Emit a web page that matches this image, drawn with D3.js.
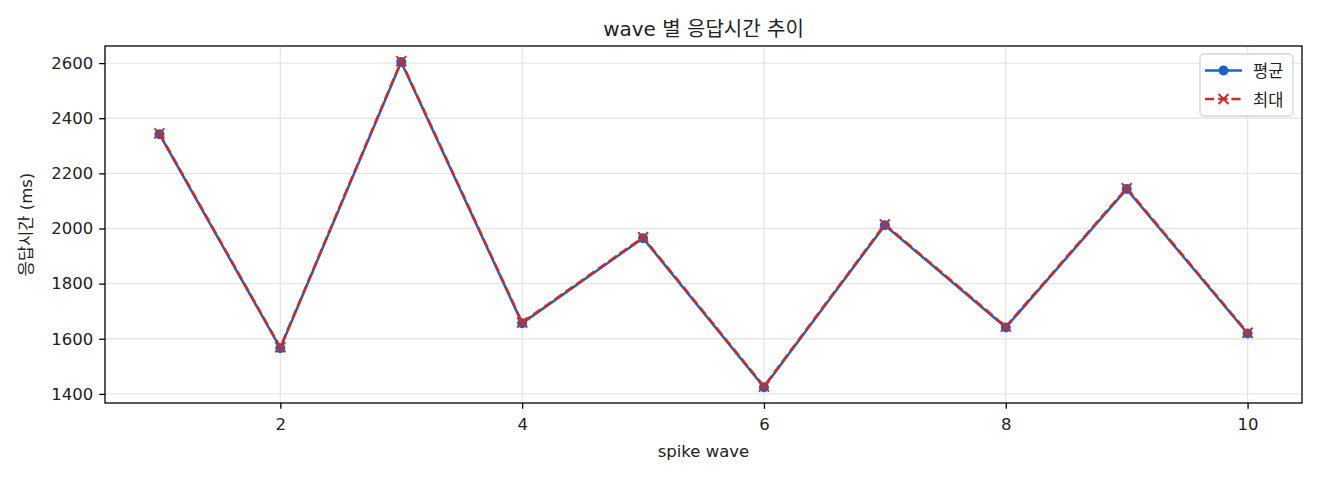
<!DOCTYPE html>
<html>
<head>
  <meta charset="utf-8">
  <title>wave 별 응답시간 추이</title>
  <script src="https://cdnjs.cloudflare.com/ajax/libs/d3/7.8.5/d3.min.js"></script>
  <style>
    body { margin: 0; background: #fff; }
    text { font-family: "DejaVu Sans", "Noto Sans CJK KR", sans-serif; fill: #222; }
    .grid line { stroke: #e6e6e6; stroke-width: 1.3; }
    .axis path { display: none; }
    .axis line { stroke: #000; stroke-width: 1.3; }
    .axis text { font-size: 16.5px; font-family: "DejaVu Sans", sans-serif; }
  </style>
</head>
<body>
<div id="chart"></div>
<script>

// data
var waves = [1, 2, 3, 4, 5, 6, 7, 8, 9, 10];
var avgMs = [2342, 1566, 2604, 1656, 1965, 1424, 2012, 1641, 2143, 1619];
var maxMs = [2345, 1569, 2607, 1659, 1968, 1427, 2015, 1644, 2146, 1622];
var xTicks = [2, 4, 6, 8, 10];
var yTicks = [1400, 1600, 1800, 2000, 2200, 2400, 2600];

var blue = "#1a63c2", red = "#cc2b2b";

var W = 1320, H = 480;
var margin = {top: 46, right: 18, bottom: 77, left: 105},
    width = W - margin.left - margin.right,
    height = H - margin.top - margin.bottom;

var svg = d3.select("#chart")
  .append("svg")
    .attr("width", W)
    .attr("height", H);

var g = svg.append("g")
    .attr("transform", "translate(" + margin.left + "," + margin.top + ")");

var x = d3.scaleLinear().domain([0.55, 10.45]).range([0, width]);
var y = d3.scaleLinear().domain([1367, 2662]).range([height, 0]);

// grid
g.append("g").attr("class", "grid")
  .selectAll("line").data(xTicks).enter().append("line")
    .attr("x1", d => x(d)).attr("x2", d => x(d))
    .attr("y1", 0).attr("y2", height);
g.append("g").attr("class", "grid")
  .selectAll("line").data(yTicks).enter().append("line")
    .attr("x1", 0).attr("x2", width)
    .attr("y1", d => y(d)).attr("y2", d => y(d));

// axes
g.append("g").attr("class", "axis")
  .attr("transform", "translate(0," + height + ")")
  .call(d3.axisBottom(x).tickValues(xTicks).tickSize(5.8).tickPadding(9).tickFormat(d3.format("d")));
g.append("g").attr("class", "axis")
  .call(d3.axisLeft(y).tickValues(yTicks).tickSize(5.8).tickPadding(6).tickFormat(d3.format("d")));

g.append("rect")
  .attr("width", width).attr("height", height)
  .attr("fill", "none").attr("stroke", "#000").attr("stroke-width", 1.3);

// mean series
var line = d3.line().x((d, i) => x(waves[i])).y(d => y(d));
g.append("path").datum(avgMs)
  .attr("d", line)
  .attr("fill", "none").attr("stroke", blue).attr("stroke-width", 2.5);
g.selectAll(".dot").data(avgMs).enter().append("circle")
  .attr("class", "dot")
  .attr("cx", (d, i) => x(waves[i])).attr("cy", d => y(d))
  .attr("r", 5).attr("fill", blue);

// max series
g.append("path").datum(maxMs)
  .attr("d", line)
  .attr("fill", "none").attr("stroke", red).attr("stroke-width", 2.5)
  .attr("stroke-dasharray", "9.2,4");
var s = 5;
g.selectAll(".cross").data(maxMs).enter().append("path")
  .attr("class", "cross")
  .attr("transform", (d, i) => "translate(" + x(waves[i]) + "," + y(d) + ")")
  .attr("d", "M" + (-s) + "," + (-s) + "L" + s + "," + s + "M" + (-s) + "," + s + "L" + s + "," + (-s))
  .attr("stroke", red).attr("stroke-width", 2).attr("fill", "none");

// titles
svg.append("text")
  .attr("x", margin.left + width / 2).attr("y", 36)
  .attr("text-anchor", "middle").style("font-size", "20px")
  .text("wave 별 응답시간 추이");
svg.append("text")
  .attr("x", margin.left + width / 2).attr("y", 457)
  .attr("text-anchor", "middle").style("font-size", "16.5px")
  .text("spike wave");
svg.append("text")
  .attr("transform", "translate(32," + (margin.top + height / 2) + ") rotate(-90)")
  .attr("text-anchor", "middle").style("font-size", "16.5px")
  .text("응답시간 (ms)");

// legend
var lg = svg.append("g").attr("transform", "translate(1200,54)");
lg.append("rect")
  .attr("width", 93).attr("height", 62).attr("rx", 4)
  .attr("fill", "#fff").attr("fill-opacity", 0.8)
  .attr("stroke", "#d5d5d5").attr("stroke-width", 1.3);
lg.append("line").attr("x1", 5).attr("x2", 42).attr("y1", 16.5).attr("y2", 16.5)
  .attr("stroke", blue).attr("stroke-width", 2.5);
lg.append("circle").attr("cx", 23.5).attr("cy", 16.5).attr("r", 5).attr("fill", blue);
lg.append("line").attr("x1", 5).attr("x2", 42).attr("y1", 45).attr("y2", 45)
  .attr("stroke", red).attr("stroke-width", 2.5).attr("stroke-dasharray", "9.2,4");
lg.append("path").attr("transform", "translate(23.5,45)")
  .attr("d", "M-5,-5L5,5M-5,5L5,-5")
  .attr("stroke", red).attr("stroke-width", 2);
lg.append("text").attr("x", 53).attr("y", 23).style("font-size", "16.5px").text("평균");
lg.append("text").attr("x", 53).attr("y", 51.5).style("font-size", "16.5px").text("최대");

</script>
</body>
</html>
